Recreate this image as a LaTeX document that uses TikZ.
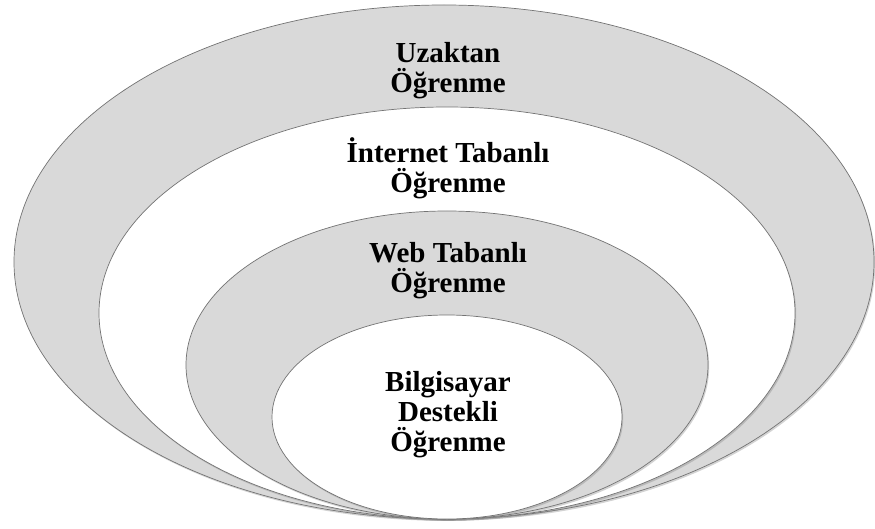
\documentclass[tikz,border=0pt]{standalone}
\usepackage{fontspec}
\setmainfont{Liberation Serif}
\usetikzlibrary{shadows}

\begin{document}
\begin{tikzpicture}[
    x=1pt, y=1pt,
    ring/.style={draw=black!55, line width=0.7pt, drop shadow={opacity=0.35, shadow xshift=1.2pt, shadow yshift=-1.8pt}},
    label/.style={align=center, inner sep=0pt, font=\bfseries\fontsize{29}{30}\selectfont}
]
    \useasboundingbox (0,0) rectangle (875,528);

    \path[ring, fill=black!15] (444,266) ellipse [x radius=430, y radius=257];
    \path[ring, fill=white] (447,215) ellipse [x radius=348, y radius=206];
    \path[ring, fill=black!15] (447,163) ellipse [x radius=261, y radius=154];
    \path[ring, fill=white] (447,111) ellipse [x radius=175, y radius=102];

    \node[label] (uzaktan) at (448,457) {Uzaktan\\Öğrenme};
    \node[label] (internet) at (448,360) {İnternet Tabanlı\\Öğrenme};
    \node[label] (web) at (448,257) {Web Tabanlı\\Öğrenme};
    \node[label] (bilgisayar) at (448,113) {Bilgisayar\\Destekli\\Öğrenme};
\end{tikzpicture}
\end{document}
